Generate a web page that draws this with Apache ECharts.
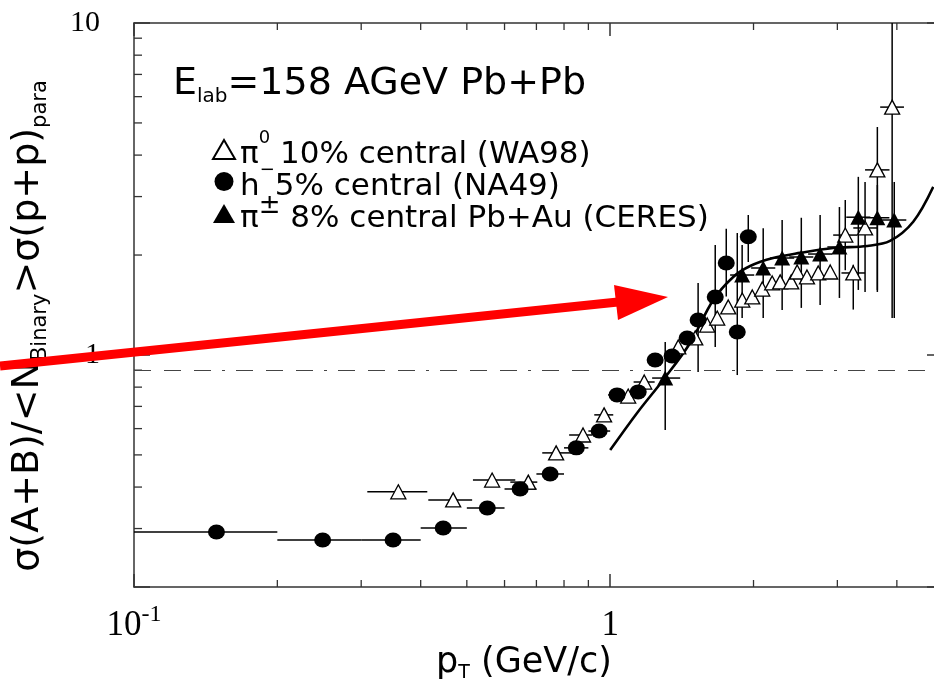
<!DOCTYPE html>
<html>
<head>
<meta charset="utf-8">
<script src="https://cdn.jsdelivr.net/npm/echarts@6/dist/echarts.min.js"></script>
<style>
  html, body { margin: 0; padding: 0; background: #fff; }
  #chart { width: 934px; height: 683px; }
</style>
</head>
<body>
<div id="chart"></div>
<script>
// ---- NA49 h- 5% central: pT, ratio, pT bin edges, ratio error range ----
const na49X   = [0.149, 0.249, 0.350, 0.446, 0.552, 0.647, 0.748, 0.849, 0.948, 1.034, 1.145, 1.243, 1.349, 1.451, 1.530, 1.662, 1.753, 1.849, 1.950];
const na49Y   = [0.293, 0.277, 0.277, 0.301, 0.346, 0.395, 0.438, 0.525, 0.590, 0.758, 0.774, 0.966, 0.993, 1.125, 1.274, 1.495, 1.892, 1.173, 2.270];
const na49XLo = [0.10, 0.20, 0.30, 0.40, 0.50, 0.60, 0.70, 0.80, 0.90, 0.99, 1.10, 1.20, 1.30, 1.40, null, null, null, null, null];
const na49XHi = [0.20, 0.30, 0.40, 0.50, 0.60, 0.70, 0.80, 0.90, 1.00, 1.08, 1.19, 1.29, 1.40, 1.50, null, null, null, null, null];
const na49YLo = [null, null, null, null, null, null, null, null, null, null, null, null, null, null, 0.889, 1.057, 1.50, 0.870, 1.906];
const na49YHi = [null, null, null, null, null, null, null, null, null, null, null, null, null, null, 1.648, 2.145, 2.40, 2.33, 2.64];

// ---- CERES pi+- 8% central Pb+Au ----
const ceresX   = [1.305, 1.893, 2.096, 2.297, 2.52, 2.76, 3.03, 3.32, 3.64, 3.95];
const ceresY   = [0.852, 1.741, 1.828, 1.959, 1.973, 2.014, 2.115, 2.60, 2.59, 2.55];
const ceresXLo = [1.225, 1.786, 1.977, 2.167, 2.377, 2.604, 2.858, 3.132, 3.434, 3.726];
const ceresXHi = [1.403, 2.007, 2.222, 2.435, 2.671, 2.926, 3.212, 3.519, 3.858, 4.187];
const ceresYLo = [0.594, 1.292, 1.292, 1.366, 1.386, 1.414, 1.485, 1.570, 1.548, 1.292];
const ceresYHi = [1.094, 2.145, 2.41, 2.55, 2.59, 2.64, 2.79, 3.44, 3.25, 3.32];

// ---- WA98 pi0 10% central ----
const wa98X   = [0.359, 0.468, 0.565, 0.673, 0.770, 0.877, 0.971, 1.091, 1.179, 1.390, 1.509, 1.599, 1.678, 1.770, 1.894, 1.988, 2.086, 2.189, 2.275, 2.40, 2.47, 2.59, 2.735, 2.898, 3.117, 3.24, 3.43, 3.64, 3.91];
const wa98Y   = [0.387, 0.366, 0.420, 0.414, 0.507, 0.574, 0.660, 0.752, 0.829, 1.057, 1.125, 1.231, 1.292, 1.395, 1.464, 1.495, 1.580, 1.648, 1.660, 1.660, 1.778, 1.718, 1.766, 1.778, 2.297, 1.766, 2.413, 3.61, 5.58];
const wa98XLo = [0.309, 0.415, 0.515, 0.617, 0.720, 0.820, 0.926, 1.04, 1.12, null, null, null, null, null, null, null, null, null, null, null, null, null, null, null, 2.94, 3.06, 3.24, 3.43, 3.69];
const wa98XHi = [0.413, 0.513, 0.632, 0.703, 0.832, 0.917, 1.015, 1.14, 1.24, null, null, null, null, null, null, null, null, null, null, null, null, null, null, null, 3.30, 3.43, 3.64, 3.86, 4.14];
const wa98YLo = [null, null, null, null, null, null, null, null, null, null, null, null, null, null, null, null, null, null, null, null, null, null, null, null, 1.80, 1.37, 1.548, 1.57, 1.292];
const wa98YHi = [null, null, null, null, null, null, null, null, null, null, null, null, null, null, null, null, null, null, null, null, null, null, null, null, 2.93, 1.87, 3.32, 4.86, 10];

// ---- model curve ----
const curveX = [1.00, 1.139, 1.292, 1.472, 1.646, 1.813, 1.968, 2.199, 2.506, 2.94, 3.47, 3.87, 4.33, 4.77];
const curveY = [0.517, 0.669, 0.841, 1.087, 1.464, 1.718, 1.854, 1.959, 2.03, 2.10, 2.13, 2.205, 2.52, 3.21];

// reference level (dash-dot line)
const refLevel = 0.9;

// axis ranges and minor ticks
const xRange = [0.1, 5];
const yRange = [0.2, 10];
const xMinorTicks = [0.2, 0.3, 0.4, 0.5, 0.6, 0.7, 0.8, 0.9, 2, 3, 4];
const yMinorTicks = [0.3, 0.4, 0.5, 0.6, 0.7, 0.8, 0.9, 2, 3, 4, 5, 6, 7, 8, 9];

// legend labels (rich text)
const legendLabels = {
  'WA98':  '{t|π}{s|0}{t| 10% central (WA98)}',
  'NA49':  '{t|h}{s|−}{t|5% central (NA49)}',
  'CERES': '{t|π}{b|±}{t| 8% central Pb+Au (CERES)}'
};

const SANS = '"DejaVu Sans", "Liberation Sans", sans-serif';
const SERIF = '"Liberation Serif", "DejaVu Serif", serif';

function errData(xs, ys, xl, xh, yl, yh) {
  return xs.map((x, i) => [x, ys[i], xl[i], xh[i], yl[i], yh[i]]);
}

function renderErr(params, api) {
  const x = api.value(0), y = api.value(1);
  const xl = api.value(2), xh = api.value(3), yl = api.value(4), yh = api.value(5);
  const st = { stroke: '#000', lineWidth: 1.5 };
  const kids = [];
  if (isFinite(xl) && isFinite(xh) && xl > 0 && xh > 0) {
    const a = api.coord([xl, y]), b = api.coord([xh, y]);
    kids.push({ type: 'line', shape: { x1: a[0], y1: a[1], x2: b[0], y2: b[1] }, style: st });
  }
  if (isFinite(yl) && isFinite(yh) && yl > 0 && yh > 0) {
    const a = api.coord([x, yl]), b = api.coord([x, yh]);
    kids.push({ type: 'line', shape: { x1: a[0], y1: a[1], x2: b[0], y2: b[1] }, style: st });
  }
  return { type: 'group', children: kids };
}

const tickStyle = { stroke: '#333', lineWidth: 1.3 };
function renderXMinor(params, api) {
  const v = api.value(0);
  const b = api.coord([v, yRange[0]]), t = api.coord([v, yRange[1]]);
  return { type: 'group', children: [
    { type: 'line', shape: { x1: b[0], y1: b[1], x2: b[0], y2: b[1] - 7 }, style: tickStyle },
    { type: 'line', shape: { x1: t[0], y1: t[1], x2: t[0], y2: t[1] + 7 }, style: tickStyle }
  ]};
}
function renderYMinor(params, api) {
  const v = api.value(1);
  const l = api.coord([xRange[0], v]), r = api.coord([xRange[1], v]);
  return { type: 'group', children: [
    { type: 'line', shape: { x1: l[0], y1: l[1], x2: l[0] + 8, y2: l[1] }, style: tickStyle },
    { type: 'line', shape: { x1: r[0], y1: r[1], x2: r[0] - 8, y2: r[1] }, style: tickStyle }
  ]};
}

const isPow = (v, p) => Math.abs(Math.log10(v) - p) < 1e-6;

const axisLineStyle = { color: '#333', width: 1.5 };
const majorTick = { show: true, inside: true, length: 13, lineStyle: { color: '#333', width: 1.5 } };

const chart = echarts.init(document.getElementById('chart'), null, { renderer: 'canvas' });

chart.setOption({
  animation: false,
  backgroundColor: '#fff',
  grid: { left: 134, right: -9, top: 23, bottom: 96, containLabel: false, outerBoundsMode: 'none' },
  xAxis: [
    {
      type: 'log', logBase: 10, min: xRange[0], max: xRange[1], position: 'bottom',
      axisLine: { lineStyle: axisLineStyle },
      axisTick: majorTick,
      splitLine: { show: false },
      axisLabel: {
        margin: 16,
        formatter: v => isPow(v, -1) ? '{b|10}{s|-1}' : (isPow(v, 0) ? '{b|1}' : ''),
        rich: {
          b: { fontFamily: SERIF, fontSize: 35, color: '#000', lineHeight: 40, verticalAlign: 'bottom' },
          s: { fontFamily: SERIF, fontSize: 24, color: '#000', lineHeight: 22, verticalAlign: 'top' }
        }
      }
    },
    {
      type: 'log', logBase: 10, min: xRange[0], max: xRange[1], position: 'top',
      axisLine: { lineStyle: axisLineStyle },
      axisTick: majorTick,
      splitLine: { show: false },
      axisLabel: { show: false }
    }
  ],
  yAxis: [
    {
      type: 'log', logBase: 10, min: yRange[0], max: yRange[1], position: 'left',
      axisLine: { lineStyle: axisLineStyle },
      axisTick: { show: true, inside: true, length: 16, lineStyle: { color: '#333', width: 1.5 } },
      splitLine: { show: false },
      axisLabel: {
        margin: 34,
        fontFamily: SERIF, fontSize: 30, color: '#000',
        formatter: v => isPow(v, 1) ? '10' : (isPow(v, 0) ? '1' : '')
      }
    },
    {
      type: 'log', logBase: 10, min: yRange[0], max: yRange[1], position: 'right',
      axisLine: { lineStyle: axisLineStyle },
      axisTick: { show: true, inside: true, length: 16, lineStyle: { color: '#333', width: 1.5 } },
      splitLine: { show: false },
      axisLabel: { show: false }
    }
  ],
  legend: {
    orient: 'vertical',
    left: 207, top: 124,
    itemWidth: 22, itemHeight: 19,
    itemGap: -9,
    selectedMode: false,
    data: ['WA98', 'NA49', 'CERES'],
    formatter: name => legendLabels[name],
    textStyle: {
      rich: {
        t: { fontFamily: SANS, fontSize: 31, color: '#000', lineHeight: 41, verticalAlign: 'bottom' },
        s: { fontFamily: SANS, fontSize: 18, color: '#000', lineHeight: 12, verticalAlign: 'top' },
        b: { fontFamily: SANS, fontSize: 26, color: '#000', lineHeight: 12, verticalAlign: 'top' }
      }
    }
  },
  graphic: [
    {
      type: 'text', left: 173, top: 65, z: 10,
      style: {
        text: '{m|E}{u|lab}{m|=158 AGeV Pb+Pb}',
        rich: {
          m: { fontFamily: SANS, fontSize: 38, fill: '#000', lineHeight: 42, verticalAlign: 'top' },
          u: { fontFamily: SANS, fontSize: 20, fill: '#000', lineHeight: 26, verticalAlign: 'bottom' }
        }
      }
    },
    {
      type: 'text', x: 30, y: 326, rotation: Math.PI / 2, z: 10,
      style: {
        text: '{m|σ(A+B)/<N}{s|Binary}{m|>σ(p+p)}{s|para}',
        align: 'center', verticalAlign: 'middle',
        rich: {
          m: { fontFamily: SANS, fontSize: 38, fill: '#000', lineHeight: 42, verticalAlign: 'top' },
          s: { fontFamily: SANS, fontSize: 21, fill: '#000', lineHeight: 24, verticalAlign: 'bottom' }
        }
      }
    },
    {
      type: 'text', x: 524, y: 664, z: 10,
      style: {
        text: '{m|p}{s|T}{m| (GeV/c)}',
        align: 'center', verticalAlign: 'middle',
        rich: {
          m: { fontFamily: SANS, fontSize: 35, fill: '#000', lineHeight: 38, verticalAlign: 'top' },
          s: { fontFamily: SANS, fontSize: 19, fill: '#000', lineHeight: 22, verticalAlign: 'bottom' }
        }
      }
    },
    // red pointer arrow
    {
      type: 'polyline', z: 20,
      shape: { points: [[0, 366], [618, 302]] },
      style: { stroke: '#ff0000', lineWidth: 9, fill: null }
    },
    {
      type: 'polygon', z: 20,
      shape: { points: [[668, 297], [614, 285], [618, 320]] },
      style: { fill: '#ff0000', stroke: null }
    }
  ],
  series: [
    {
      name: 'model', type: 'line', z: 2,
      data: curveX.map((x, i) => [x, curveY[i]]),
      showSymbol: false, smooth: 0.35,
      lineStyle: { color: '#000', width: 2.6 },
      markLine: {
        silent: true, symbol: 'none', label: { show: false },
        lineStyle: { color: '#444', width: 1.2, type: [17, 13, 17, 13, 17, 11, 3, 11] },
        data: [{ yAxis: refLevel }]
      }
    },
    { type: 'custom', z: 1, renderItem: renderXMinor, data: xMinorTicks.map(v => [v, 1]), silent: true },
    { type: 'custom', z: 1, renderItem: renderYMinor, data: yMinorTicks.map(v => [1, v]), silent: true },
    { type: 'custom', z: 3, renderItem: renderErr, encode: { x: 0, y: 1 }, data: errData(na49X, na49Y, na49XLo, na49XHi, na49YLo, na49YHi), silent: true },
    { type: 'custom', z: 3, renderItem: renderErr, encode: { x: 0, y: 1 }, data: errData(ceresX, ceresY, ceresXLo, ceresXHi, ceresYLo, ceresYHi), silent: true },
    { type: 'custom', z: 3, renderItem: renderErr, encode: { x: 0, y: 1 }, data: errData(wa98X, wa98Y, wa98XLo, wa98XHi, wa98YLo, wa98YHi), silent: true },
    {
      name: 'WA98', type: 'scatter', z: 4, symbol: 'triangle', symbolSize: [15, 14],
      itemStyle: { color: '#fff', borderColor: '#000', borderWidth: 1.3, opacity: 1 },
      data: wa98X.map((x, i) => [x, wa98Y[i]])
    },
    {
      name: 'NA49', type: 'scatter', z: 5, symbol: 'circle', symbolSize: [17, 15],
      itemStyle: { color: '#000', opacity: 1 },
      data: na49X.map((x, i) => [x, na49Y[i]])
    },
    {
      name: 'CERES', type: 'scatter', z: 5, symbol: 'triangle', symbolSize: [16, 15],
      itemStyle: { color: '#000', opacity: 1 },
      data: ceresX.map((x, i) => [x, ceresY[i]])
    }
  ]
});
</script>
</body>
</html>
